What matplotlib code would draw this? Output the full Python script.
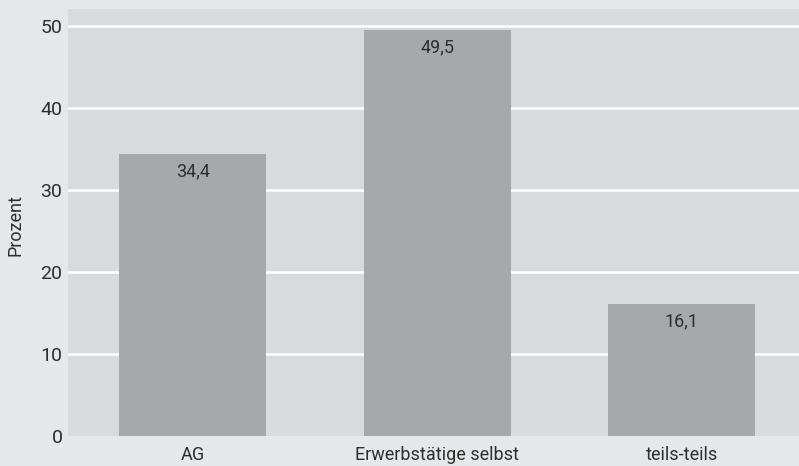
import matplotlib.pyplot as plt

# Data
categories = ['AG', 'Erwerbstätige selbst', 'teils-teils']
values = [34.4, 49.5, 16.1]
labels = ['34,4', '49,5', '16,1']
y_ticks = [0, 10, 20, 30, 40, 50]

plt.rcParams['font.family'] = ['Roboto', 'DejaVu Sans']
FS = 13
TXT = '#2e2e2e'

fig = plt.figure(figsize=(7.99, 4.66), dpi=100, facecolor='#e6e7e8')
ax = fig.add_axes([68 / 799, 30 / 466, 731 / 799, 427 / 466])
ax.set_facecolor('#d9dadb')

x = range(len(categories))
bars = ax.bar(x, values, width=0.6, color='#a7a8ab', zorder=3)

for b, lab in zip(bars, labels):
    ax.annotate(lab, (b.get_x() + b.get_width() / 2, b.get_height()),
                xytext=(0, -6), textcoords='offset points',
                ha='center', va='top', fontsize=FS, color=TXT, zorder=4)

ax.set_xlim(-0.51, 2.48)
ax.set_ylim(0, 52.1)
ax.set_yticks(y_ticks)
ax.set_xticks(list(x))
ax.set_xticklabels(categories)
ax.tick_params(axis='both', length=0, labelsize=FS, labelcolor=TXT)
ax.tick_params(axis='y', pad=4, labelsize=14)
ax.tick_params(axis='x', pad=7)

for t in y_ticks[1:]:
    ax.axhline(t, color='white', linewidth=1.8, zorder=1)

for s in ax.spines.values():
    s.set_visible(False)

# y-axis title placed in figure pixels
fig.text(16 / 799, 1 - 225 / 466, 'Prozent', rotation=90, ha='center', va='center',
         fontsize=FS, color=TXT)

fig.savefig('out.png', dpi=100, facecolor=fig.get_facecolor())
